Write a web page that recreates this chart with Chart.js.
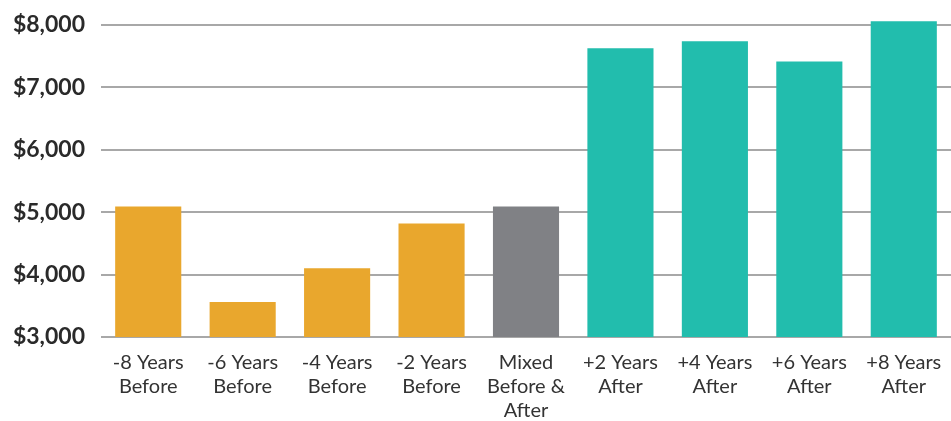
<!DOCTYPE html>
<html>
<head>
<meta charset="utf-8">
<script src="https://cdn.jsdelivr.net/npm/chart.js@4/dist/chart.umd.min.js"></script>
<style>
  html, body { margin: 0; padding: 0; background: #fff; }
  #wrap { width: 951px; height: 421px; position: relative; }
</style>
</head>
<body>
<div id="wrap"><canvas id="chart"></canvas></div>
<script>
// categories (multi-line labels)
const categories = [
    ['-8 Years', 'Before'],
    ['-6 Years', 'Before'],
    ['-4 Years', 'Before'],
    ['-2 Years', 'Before'],
    ['Mixed', 'Before &', 'After'],
    ['+2 Years', 'After'],
    ['+4 Years', 'After'],
    ['+6 Years', 'After'],
    ['+8 Years', 'After']
];

const values = [5090, 3560, 4100, 4820, 5090, 7625, 7740, 7415, 8060];

const barColors = [
    '#E9A72D', '#E9A72D', '#E9A72D', '#E9A72D',
    '#808185',
    '#22BDAD', '#22BDAD', '#22BDAD', '#22BDAD'
];

// y axis tick values
const yTicks = [3000, 4000, 5000, 6000, 7000, 8000];
const yMin = 3000;
const yMax = 8400;

const ctx = document.getElementById('chart').getContext('2d');
new Chart(ctx, {
    type: 'bar',
    data: {
        labels: categories,
        datasets: [{
            data: values,
            backgroundColor: barColors,
            borderWidth: 0,
            barPercentage: 0.7,
            categoryPercentage: 1.0
        }]
    },
    options: {
        responsive: true,
        maintainAspectRatio: false,
        animation: false,
        layout: { padding: 0 },
        plugins: {
            legend: { display: false },
            tooltip: { enabled: false }
        },
        scales: {
            x: {
                grid: { display: false },
                border: { display: false },
                ticks: {
                    color: '#333333',
                    padding: 5,
                    maxRotation: 0,
                    autoSkip: false,
                    font: { family: 'Lato', size: 20, lineHeight: 1.22 }
                },
                afterFit: (scale) => { scale.height = 84; }
            },
            y: {
                min: yMin,
                max: yMax,
                grid: { color: '#A8A8A8', lineWidth: 2, drawTicks: false },
                border: { display: false },
                ticks: {
                    padding: 16,
                    autoSkip: false,
                    color: '#2A2A2A',
                    font: { family: 'Lato', size: 23, weight: 'bold' },
                    callback: (v) => '$' + v.toLocaleString('en-US')
                },
                afterBuildTicks: (scale) => {
                    scale.ticks = yTicks.map(v => ({ value: v }));
                },
                afterFit: (scale) => {
                    scale.width = 101;
                    scale.paddingTop = 0;
                }
            }
        }
    }
});
</script>
</body>
</html>
